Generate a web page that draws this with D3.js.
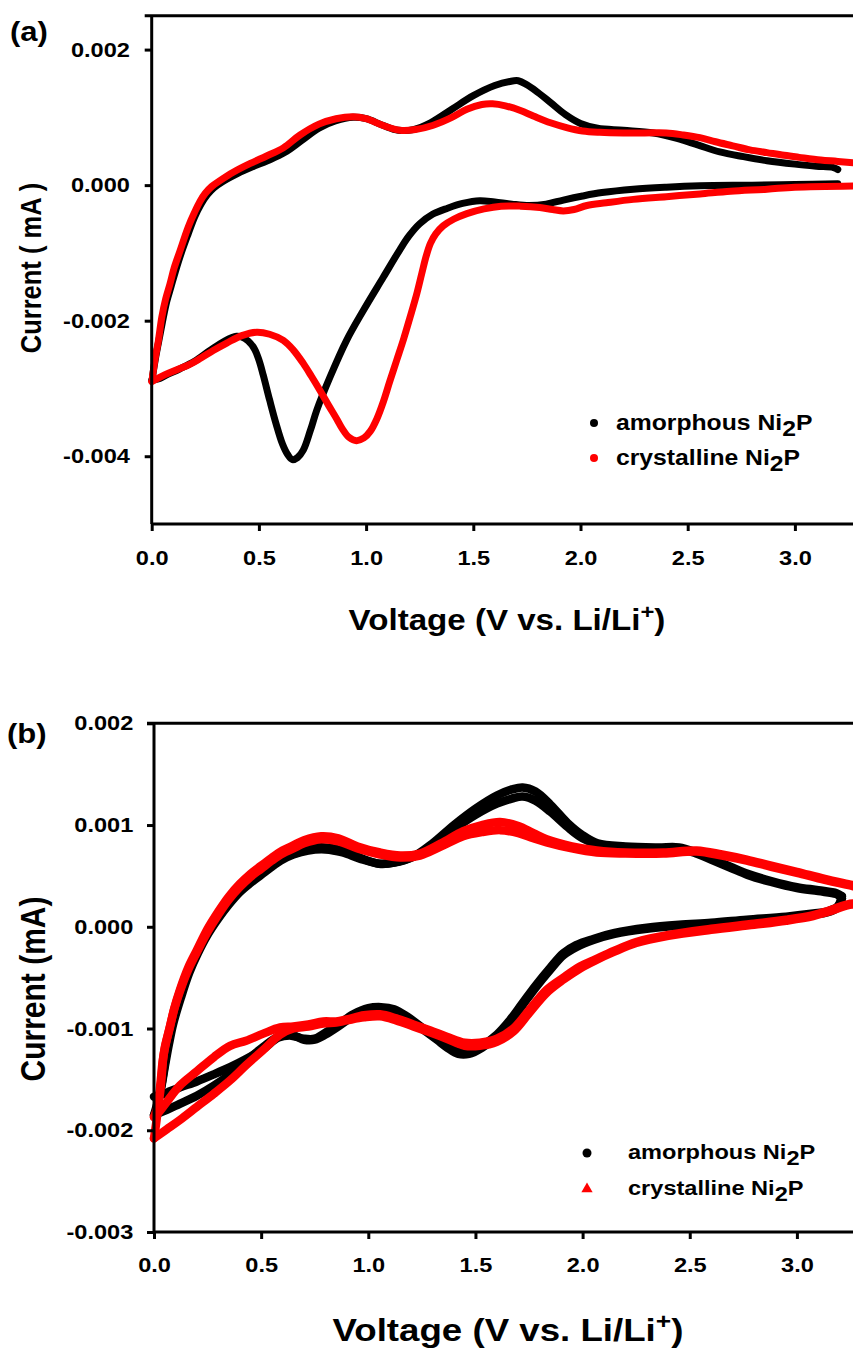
<!DOCTYPE html>
<html><head><meta charset="utf-8">
<script src="https://cdnjs.cloudflare.com/ajax/libs/d3/7.8.5/d3.min.js"></script>
<style>
body{margin:0;background:#fff}
svg{display:block}
text{font-family:"Liberation Sans",Arial,sans-serif;font-weight:bold;fill:#000}
</style>
</head><body>
<svg id="c" width="853" height="1351"></svg>
<script>
// ---------- DATA (voltage in V, current in units of 0.001 mA) ----------
const xTicks = [0, 0.5, 1.0, 1.5, 2.0, 2.5, 3.0];
const yTicksA = [-4, -2, 0, 2];
const yTicksB = [-3, -2, -1, 0, 1, 2];
const seriesNames = ["amorphous Ni", "crystalline Ni"];

// Panel (a) amorphous: anodic and cathodic branches
const amorA_anodic = [[0.005,-2.8],[0.018,-2.55],[0.033,-2.3],[0.05,-2.02],[0.07,-1.72],[0.09,-1.5],[0.11,-1.28],[0.138,-1.0],[0.17,-0.72],[0.2,-0.47],[0.23,-0.28],[0.26,-0.14],[0.29,-0.04],[0.33,0.05],[0.4,0.17],[0.47,0.27],[0.54,0.36],[0.62,0.48],[0.7,0.66],[0.78,0.84],[0.86,0.95],[0.94,1.0],[1.0,0.98],[1.08,0.88],[1.15,0.81],[1.22,0.82],[1.3,0.92],[1.4,1.12],[1.5,1.32],[1.6,1.47],[1.67,1.53],[1.71,1.54],[1.75,1.48],[1.8,1.37],[1.86,1.22],[1.93,1.04],[2.0,0.91],[2.08,0.84],[2.2,0.81],[2.34,0.77],[2.45,0.69],[2.55,0.59],[2.65,0.49],[2.76,0.42],[2.87,0.36],[3.0,0.31],[3.1,0.28],[3.18,0.26],[3.2,0.23]];
const amorA_cathodic = [[3.2,0.02],[3.0,0.01],[2.8,0.0],[2.557,-0.01],[2.4,-0.03],[2.246,-0.06],[2.1,-0.11],[2.01,-0.16],[1.92,-0.22],[1.84,-0.28],[1.76,-0.3],[1.68,-0.28],[1.6,-0.25],[1.53,-0.23],[1.45,-0.27],[1.38,-0.34],[1.31,-0.43],[1.25,-0.57],[1.2,-0.75],[1.158,-0.95],[1.08,-1.36],[0.987,-1.85],[0.909,-2.29],[0.832,-2.83],[0.77,-3.32],[0.74,-3.62],[0.707,-3.91],[0.68,-4.02],[0.656,-4.05],[0.635,-3.98],[0.61,-3.82],[0.58,-3.52],[0.55,-3.17],[0.52,-2.8],[0.5,-2.58],[0.48,-2.42],[0.45,-2.3],[0.42,-2.24],[0.396,-2.23],[0.34,-2.3],[0.272,-2.44],[0.2,-2.6],[0.132,-2.71],[0.07,-2.8],[0.03,-2.86],[0.0,-2.88]];
// Panel (a) crystalline
const crysA_anodic = [[0.003,-2.85],[0.015,-2.58],[0.031,-2.3],[0.047,-1.95],[0.065,-1.68],[0.085,-1.46],[0.105,-1.22],[0.132,-0.97],[0.17,-0.62],[0.2,-0.4],[0.225,-0.24],[0.25,-0.12],[0.28,-0.02],[0.32,0.07],[0.38,0.19],[0.46,0.32],[0.536,0.43],[0.614,0.55],[0.692,0.74],[0.78,0.9],[0.86,0.98],[0.94,1.01],[1.0,0.98],[1.08,0.88],[1.158,0.81],[1.23,0.82],[1.31,0.88],[1.4,1.0],[1.47,1.12],[1.54,1.19],[1.59,1.2],[1.65,1.17],[1.72,1.1],[1.78,1.02],[1.86,0.92],[1.935,0.85],[2.01,0.8],[2.09,0.78],[2.2,0.77],[2.3,0.77],[2.4,0.77],[2.48,0.74],[2.557,0.7],[2.63,0.64],[2.71,0.58],[2.79,0.52],[2.87,0.48],[2.95,0.44],[3.02,0.41],[3.12,0.37],[3.2,0.35],[3.3,0.32]];
const crysA_cathodic = [[3.3,-0.01],[3.0,-0.03],[2.87,-0.06],[2.7,-0.09],[2.557,-0.13],[2.4,-0.17],[2.246,-0.21],[2.12,-0.26],[2.03,-0.3],[1.97,-0.36],[1.92,-0.38],[1.87,-0.36],[1.81,-0.33],[1.72,-0.31],[1.63,-0.31],[1.55,-0.35],[1.47,-0.42],[1.41,-0.5],[1.36,-0.6],[1.325,-0.72],[1.3,-0.86],[1.28,-1.05],[1.26,-1.3],[1.235,-1.62],[1.205,-1.95],[1.175,-2.27],[1.143,-2.58],[1.11,-2.9],[1.08,-3.2],[1.05,-3.45],[1.02,-3.63],[0.99,-3.73],[0.955,-3.77],[0.92,-3.72],[0.89,-3.6],[0.863,-3.45],[0.825,-3.25],[0.785,-3.03],[0.745,-2.82],[0.707,-2.63],[0.66,-2.43],[0.614,-2.29],[0.55,-2.2],[0.49,-2.17],[0.42,-2.22],[0.35,-2.33],[0.287,-2.44],[0.23,-2.55],[0.18,-2.64],[0.12,-2.72],[0.06,-2.8],[0.0,-2.9]];

// Panel (b) amorphous, two cycles
const amorB_anodic1 = [[0.02,-1.7],[0.035,-1.55],[0.05,-1.35],[0.065,-1.15],[0.085,-0.95],[0.12,-0.7],[0.16,-0.45],[0.2,-0.25],[0.25,-0.06],[0.3,0.1],[0.35,0.24],[0.4,0.36],[0.45,0.45],[0.5,0.53],[0.55,0.61],[0.6,0.68],[0.65,0.73],[0.72,0.77],[0.8,0.78],[0.88,0.75],[0.96,0.68],[1.05,0.62],[1.12,0.63],[1.21,0.69],[1.3,0.82],[1.4,1.0],[1.5,1.16],[1.6,1.29],[1.67,1.35],[1.72,1.37],[1.78,1.33],[1.85,1.2],[1.93,1.02],[2.0,0.9],[2.07,0.82],[2.2,0.79],[2.35,0.78],[2.45,0.78],[2.53,0.73],[2.61,0.66],[2.69,0.59],[2.77,0.52],[2.88,0.45],[3.0,0.39],[3.1,0.36],[3.185,0.33],[3.21,0.3]];
const amorB_anodic2 = [[0.0,-1.85],[0.03,-1.62],[0.05,-1.38],[0.07,-1.15],[0.09,-0.95],[0.125,-0.7],[0.165,-0.45],[0.205,-0.26],[0.25,-0.08],[0.3,0.08],[0.35,0.22],[0.4,0.34],[0.45,0.43],[0.5,0.51],[0.55,0.59],[0.6,0.66],[0.65,0.71],[0.72,0.75],[0.8,0.76],[0.88,0.73],[0.96,0.67],[1.05,0.62],[1.12,0.63],[1.21,0.69],[1.3,0.8],[1.4,0.96],[1.5,1.1],[1.6,1.21],[1.67,1.26],[1.72,1.28],[1.78,1.24],[1.85,1.13],[1.93,0.98],[2.0,0.87],[2.07,0.81],[2.2,0.78],[2.35,0.77],[2.45,0.77],[2.53,0.72],[2.61,0.65],[2.69,0.58],[2.77,0.51],[2.88,0.44],[3.0,0.38],[3.1,0.35],[3.185,0.32],[3.21,0.28]];
const amorB_cathodic1 = [[3.21,0.3],[3.19,0.2],[3.14,0.15],[3.077,0.13],[2.95,0.1],[2.766,0.07],[2.6,0.04],[2.45,0.02],[2.3,-0.01],[2.15,-0.06],[2.05,-0.12],[1.97,-0.18],[1.91,-0.26],[1.85,-0.4],[1.78,-0.58],[1.72,-0.75],[1.66,-0.92],[1.6,-1.06],[1.53,-1.17],[1.47,-1.23],[1.42,-1.23],[1.37,-1.17],[1.32,-1.1],[1.25,-0.99],[1.18,-0.88],[1.12,-0.81],[1.06,-0.79],[1.0,-0.8],[0.93,-0.86],[0.86,-0.96],[0.8,-1.04],[0.75,-1.1],[0.7,-1.1],[0.64,-1.07],[0.58,-1.09],[0.51,-1.2],[0.43,-1.3],[0.355,-1.38],[0.28,-1.45],[0.2,-1.52],[0.12,-1.58],[0.06,-1.63],[0.02,-1.66],[0.0,-1.67]];
const amorB_cathodic2 = [[3.21,0.28],[3.19,0.19],[3.14,0.14],[3.077,0.12],[2.95,0.09],[2.766,0.06],[2.6,0.03],[2.45,0.01],[2.3,-0.02],[2.15,-0.07],[2.05,-0.13],[1.97,-0.2],[1.91,-0.28],[1.85,-0.42],[1.78,-0.6],[1.72,-0.77],[1.66,-0.94],[1.6,-1.08],[1.53,-1.19],[1.47,-1.25],[1.42,-1.25],[1.37,-1.19],[1.32,-1.11],[1.25,-1.0],[1.18,-0.89],[1.12,-0.82],[1.06,-0.8],[1.0,-0.82],[0.93,-0.88],[0.86,-0.98],[0.8,-1.06],[0.75,-1.11],[0.7,-1.11],[0.64,-1.06],[0.58,-1.08],[0.51,-1.18],[0.43,-1.32],[0.355,-1.45],[0.28,-1.56],[0.2,-1.66],[0.12,-1.74],[0.06,-1.8],[0.013,-1.84],[0.0,-1.85]];

// Panel (b) crystalline, two cycles
const crysB_anodic1 = [[0.0,-1.87],[0.015,-1.78],[0.028,-1.64],[0.036,-1.46],[0.043,-1.29],[0.051,-1.18],[0.075,-0.98],[0.095,-0.8],[0.121,-0.62],[0.16,-0.4],[0.2,-0.23],[0.25,-0.02],[0.3,0.15],[0.35,0.3],[0.4,0.42],[0.45,0.52],[0.5,0.6],[0.55,0.68],[0.6,0.75],[0.65,0.8],[0.7,0.85],[0.78,0.89],[0.86,0.87],[0.95,0.79],[1.055,0.73],[1.15,0.7],[1.241,0.72],[1.34,0.82],[1.443,0.94],[1.53,1.0],[1.615,1.03],[1.7,0.99],[1.77,0.92],[1.832,0.86],[1.95,0.79],[2.066,0.75],[2.2,0.73],[2.377,0.73],[2.532,0.75],[2.65,0.71],[2.766,0.66],[2.88,0.6],[3.0,0.54],[3.13,0.47],[3.26,0.41],[3.3,0.39]];
const crysB_anodic2 = [[0.0,-2.08],[0.012,-1.9],[0.022,-1.7],[0.032,-1.5],[0.04,-1.33],[0.05,-1.2],[0.072,-1.0],[0.093,-0.82],[0.12,-0.64],[0.16,-0.42],[0.2,-0.25],[0.25,-0.05],[0.3,0.12],[0.35,0.27],[0.4,0.39],[0.45,0.49],[0.5,0.57],[0.55,0.65],[0.6,0.72],[0.65,0.77],[0.7,0.82],[0.78,0.86],[0.86,0.84],[0.95,0.77],[1.055,0.71],[1.15,0.68],[1.241,0.7],[1.34,0.79],[1.443,0.89],[1.53,0.93],[1.615,0.95],[1.7,0.92],[1.77,0.87],[1.832,0.83],[1.95,0.77],[2.066,0.73],[2.2,0.72],[2.377,0.72],[2.532,0.74],[2.65,0.7],[2.766,0.65],[2.88,0.59],[3.0,0.53],[3.13,0.46],[3.26,0.4],[3.3,0.38]];
const crysB_cathodic1 = [[3.3,0.2],[3.26,0.23],[3.15,0.16],[3.076,0.115],[2.95,0.07],[2.8,0.03],[2.6,-0.02],[2.4,-0.08],[2.25,-0.15],[2.143,-0.24],[2.06,-0.32],[1.988,-0.39],[1.91,-0.5],[1.832,-0.62],[1.75,-0.82],[1.677,-1.0],[1.6,-1.1],[1.52,-1.14],[1.45,-1.14],[1.366,-1.08],[1.29,-1.02],[1.21,-0.96],[1.13,-0.9],[1.055,-0.86],[0.98,-0.87],[0.9,-0.91],[0.85,-0.93],[0.79,-0.93],[0.72,-0.96],[0.65,-0.98],[0.588,-0.99],[0.51,-1.05],[0.43,-1.12],[0.355,-1.17],[0.28,-1.28],[0.2,-1.42],[0.121,-1.56],[0.06,-1.72],[0.02,-1.83],[0.0,-1.87]];
const crysB_cathodic2 = [[3.3,0.19],[3.26,0.22],[3.15,0.15],[3.076,0.105],[2.95,0.06],[2.8,0.02],[2.6,-0.03],[2.4,-0.09],[2.25,-0.16],[2.143,-0.25],[2.06,-0.33],[1.988,-0.41],[1.91,-0.52],[1.832,-0.65],[1.75,-0.85],[1.677,-1.03],[1.6,-1.13],[1.52,-1.17],[1.45,-1.17],[1.366,-1.1],[1.29,-1.04],[1.21,-0.98],[1.13,-0.92],[1.055,-0.88],[0.98,-0.89],[0.9,-0.92],[0.85,-0.94],[0.79,-0.95],[0.72,-0.98],[0.65,-1.0],[0.588,-1.06],[0.51,-1.21],[0.43,-1.36],[0.355,-1.51],[0.28,-1.64],[0.2,-1.77],[0.12,-1.9],[0.06,-1.99],[0.02,-2.05],[0.0,-2.08]];

// ---------- DRAWING ----------
const SX = 1.15; // horizontal stretch of the reference typography
const svg = d3.select("#c");
const fmtY = v => (v/1000).toFixed(3);
const fmtX = d3.format(".1f");

function txt(g, x, y, size, anchor, rot) {
  return g.append("text")
    .attr("transform", rot ? `translate(${x},${y}) rotate(-90) scale(1,${SX})` : `translate(${x},${y}) scale(${SX},1)`)
    .attr("font-size", size).attr("text-anchor", anchor);
}

function panel(cfg) {
  const g = svg.append("g");
  const x = d3.scaleLinear().domain([0, 3.3]).range([cfg.left, cfg.left + 3.3*cfg.pxPerV]);
  const y = d3.scaleLinear().domain(cfg.yDomain).range([cfg.bottom, cfg.top]);

  g.append("line").attr("x1", cfg.left - 7).attr("x2", 853).attr("y1", cfg.top).attr("y2", cfg.top)
    .attr("stroke", "#000").attr("stroke-width", 3);

  const line = d3.line().x(d => x(d[0])).y(d => y(d[1])).curve(d3.curveCatmullRom.alpha(0.5));
  cfg.series.forEach(s => {
    s.branches.forEach(b => {
      g.append("path").attr("d", line(b)).attr("fill", "none")
        .attr("stroke", s.color).attr("stroke-width", cfg.lw)
        .attr("stroke-linecap", "round").attr("stroke-linejoin", "round");
    });
  });

  const ax = g.append("g").attr("transform", `translate(0,${cfg.bottom})`)
    .call(d3.axisBottom(x).tickValues(xTicks).tickFormat(fmtX).tickSize(7).tickSizeOuter(0).tickPadding(cfg.xPad));
  const ay = g.append("g").attr("transform", `translate(${cfg.left},0)`)
    .call(d3.axisLeft(y).tickValues(cfg.yTicks).tickFormat(fmtY).tickSize(7).tickSizeOuter(0).tickPadding(cfg.yPad));
  [ax, ay].forEach(a => {
    a.select(".domain").attr("stroke-width", 3);
    a.selectAll(".tick line").attr("stroke-width", 3);
    a.selectAll(".tick text").attr("font-size", cfg.tickFont)
      .attr("font-family", null).attr("transform", `scale(${SX},1)`);
  });
  ay.select(".domain").attr("d", `M0,${cfg.top}V${cfg.bottom}`);
  ax.select(".domain").attr("d", `M${cfg.left},0H853`);

  txt(g, cfg.tagX, cfg.tagY, cfg.tagFont, "start").text(cfg.tag);

  const xt = txt(g, cfg.xtX, cfg.xtY, cfg.titleFont, "middle");
  xt.append("tspan").text("Voltage (V vs. Li/Li");
  xt.append("tspan").attr("font-size", cfg.titleFont*0.72).attr("dy", -cfg.titleFont*0.38).text("+");
  xt.append("tspan").attr("dy", cfg.titleFont*0.38).text(")");

  txt(g, cfg.ytX, cfg.ytY, cfg.yTitleFont, "middle", true).text(cfg.yTitle);

  cfg.series.forEach((s, i) => {
    const ly = cfg.legY + i*cfg.legGap;
    if (s.shape === "tri") {
      g.append("path").attr("d", d3.symbol(d3.symbolTriangle, cfg.triSize)()).attr("transform", `translate(${cfg.legSymX},${ly})`).attr("fill", s.color);
    } else {
      g.append("circle").attr("cx", cfg.legSymX).attr("cy", ly).attr("r", cfg.legR).attr("fill", s.color);
    }
    const t = txt(g, cfg.legTextX, ly + cfg.legBase, cfg.legFont, "start");
    t.append("tspan").text(seriesNames[i]);
    t.append("tspan").attr("dy", cfg.legFont*0.3).text("2");
    t.append("tspan").attr("dy", -cfg.legFont*0.3).text("P");
  });
}

panel({
  left: 151.7, pxPerV: 214.4, top: 15.7, bottom: 524, yDomain: [-5, 2.5], yTicks: yTicksA,
  lw: 7, tickFont: 20.5, xPad: 19, yPad: 12,
  tag: "(a)", tagX: 10, tagY: 41, tagFont: 27,
  titleFont: 28.8, xtX: 507, xtY: 630,
  yTitle: "Current ( mA )", yTitleFont: 25.5, ytX: 41, ytY: 268,
  legSymX: 594, legTextX: 616, legY: 423, legGap: 35, legBase: 7, legFont: 21.5, legR: 4, triSize: 50,
  series: [
    {color: "#000", shape: "circle", branches: [amorA_anodic, amorA_cathodic]},
    {color: "#ff0000", shape: "circle", branches: [crysA_anodic, crysA_cathodic]}
  ]
});

panel({
  left: 154, pxPerV: 214.3, top: 723.3, bottom: 1232, yDomain: [-3, 2], yTicks: yTicksB,
  lw: 8.5, tickFont: 20.5, xPad: 18, yPad: 11,
  tag: "(b)", tagX: 7, tagY: 743, tagFont: 27,
  titleFont: 31.9, xtX: 508, xtY: 1341,
  yTitle: "Current (mA)", yTitleFont: 30, ytX: 45, ytY: 989,
  legSymX: 587, legTextX: 628, legY: 1153, legGap: 36, legBase: 5.5, legFont: 20.5, legR: 4.5, triSize: 55,
  series: [
    {color: "#000", shape: "circle", branches: [amorB_anodic1, amorB_cathodic1, amorB_anodic2, amorB_cathodic2]},
    {color: "#ff0000", shape: "tri", branches: [crysB_anodic1, crysB_cathodic1, crysB_anodic2, crysB_cathodic2]}
  ]
});
</script>
</body></html>
